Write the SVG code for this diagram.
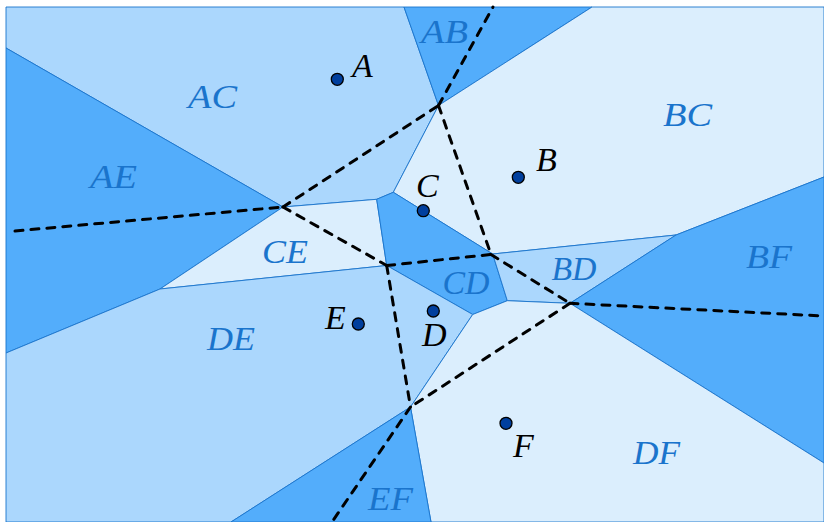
<svg xmlns="http://www.w3.org/2000/svg" width="824" height="522" viewBox="0 0 824 522">
<style>
.dk{fill:#53adfb;stroke:#1a74cc;stroke-width:0.9;stroke-linejoin:round}
.md{fill:#abd7fd;stroke:#1a74cc;stroke-width:0.9;stroke-linejoin:round}
.lt{fill:#dbeefd;stroke:#1a74cc;stroke-width:0.9;stroke-linejoin:round}
.rl{font-family:"Liberation Serif","DejaVu Serif",serif;font-style:italic;font-size:34px;fill:#1a74cc}
.pl{font-family:"Liberation Serif","DejaVu Serif",serif;font-style:italic;font-size:34px;fill:#000}
.pt{fill:#003f9e;stroke:#000;stroke-width:1.3}
.ds{fill:none;stroke:#000;stroke-width:3;stroke-dasharray:8 8;stroke-linecap:round}
</style>
<rect width="824" height="522" fill="#fff"/>
<g id="regions">
<g id="AC"><polygon class="md" points="6,7 404,7 438.5,105.5 393.3,192.3 376.7,199.3 283,207 6,48"/><text class="rl" x="188" y="108" textLength="49" lengthAdjust="spacingAndGlyphs">AC</text></g>
<g id="AB"><polygon class="dk" points="404,7 592,7 438.5,105.5"/><text class="rl" x="421" y="43" textLength="47" lengthAdjust="spacingAndGlyphs">AB</text></g>
<g id="BC"><polygon class="lt" points="438.5,105.5 592,7 824,7 824,177 676,235 492.7,254 393.3,192.3"/><text class="rl" x="663" y="126" textLength="49" lengthAdjust="spacingAndGlyphs">BC</text></g>
<g id="AE"><polygon class="dk" points="6,48 283,207 160,289 6,353"/><text class="rl" x="90" y="188" textLength="47" lengthAdjust="spacingAndGlyphs">AE</text></g>
<g id="CE"><polygon class="lt" points="283,207 376.7,199.3 386.7,265.5 160,289"/><text class="rl" x="262" y="263" textLength="46" lengthAdjust="spacingAndGlyphs">CE</text></g>
<g id="CD"><polygon class="dk" points="376.7,199.3 393.3,192.3 492.7,254 507.3,300.7 472.7,314.5 386.7,265.5"/><text class="rl" x="442.5" y="294" textLength="47" lengthAdjust="spacingAndGlyphs">CD</text></g>
<g id="BD"><polygon class="md" points="492.7,254 676,235 570,303.3 507.3,300.7"/><text class="rl" x="551.5" y="280" textLength="45" lengthAdjust="spacingAndGlyphs">BD</text></g>
<g id="BF"><polygon class="dk" points="676,235 824,177 824,463 570,303.3"/><text class="rl" x="746" y="268" textLength="46" lengthAdjust="spacingAndGlyphs">BF</text></g>
<g id="DE"><polygon class="md" points="6,353 160,289 386.7,265.5 472.7,314.5 410.5,407 231,522 6,522"/><text class="rl" x="207" y="350" textLength="48" lengthAdjust="spacingAndGlyphs">DE</text></g>
<g id="DF"><polygon class="lt" points="472.7,314.5 507.3,300.7 570,303.3 824,463 824,522 431,522 410.5,407"/><text class="rl" x="633" y="464" textLength="47" lengthAdjust="spacingAndGlyphs">DF</text></g>
<g id="EF"><polygon class="dk" points="410.5,407 431,522 231,522"/><text class="rl" x="368" y="510" textLength="45" lengthAdjust="spacingAndGlyphs">EF</text></g>
</g>
<g id="connectors">
<line class="ds" x1="15" y1="231" x2="283" y2="207"/>
<line class="ds" x1="283" y1="207" x2="438.5" y2="105.5"/>
<line class="ds" x1="438.5" y1="105.5" x2="493" y2="7"/>
<line class="ds" x1="438.5" y1="105.5" x2="491" y2="254.5"/>
<line class="ds" x1="283" y1="207" x2="386.7" y2="265.5"/>
<line class="ds" x1="386.7" y1="265.5" x2="491" y2="254.5"/>
<line class="ds" x1="491" y1="254.5" x2="570" y2="303.3"/>
<line class="ds" x1="570" y1="303.3" x2="824" y2="316"/>
<line class="ds" x1="570" y1="303.3" x2="410.5" y2="407"/>
<line class="ds" x1="386.7" y1="265.5" x2="410.5" y2="407"/>
<line class="ds" x1="410.5" y1="407" x2="332" y2="522"/>
</g>
<g id="points">
<g id="A"><circle class="pt" cx="337.3" cy="79.3" r="6"/><text class="pl" x="352" y="77">A</text></g>
<g id="B"><circle class="pt" cx="518.3" cy="177.3" r="6"/><text class="pl" x="536" y="171">B</text></g>
<g id="C"><circle class="pt" cx="423.3" cy="210.7" r="6"/><text class="pl" x="416" y="197">C</text></g>
<g id="D"><circle class="pt" cx="433.3" cy="311" r="6"/><text class="pl" x="422" y="346">D</text></g>
<g id="E"><circle class="pt" cx="358.3" cy="324" r="6"/><text class="pl" x="325" y="329">E</text></g>
<g id="F"><circle class="pt" cx="506" cy="423.3" r="6"/><text class="pl" x="513" y="457">F</text></g>
</g>
</svg>
